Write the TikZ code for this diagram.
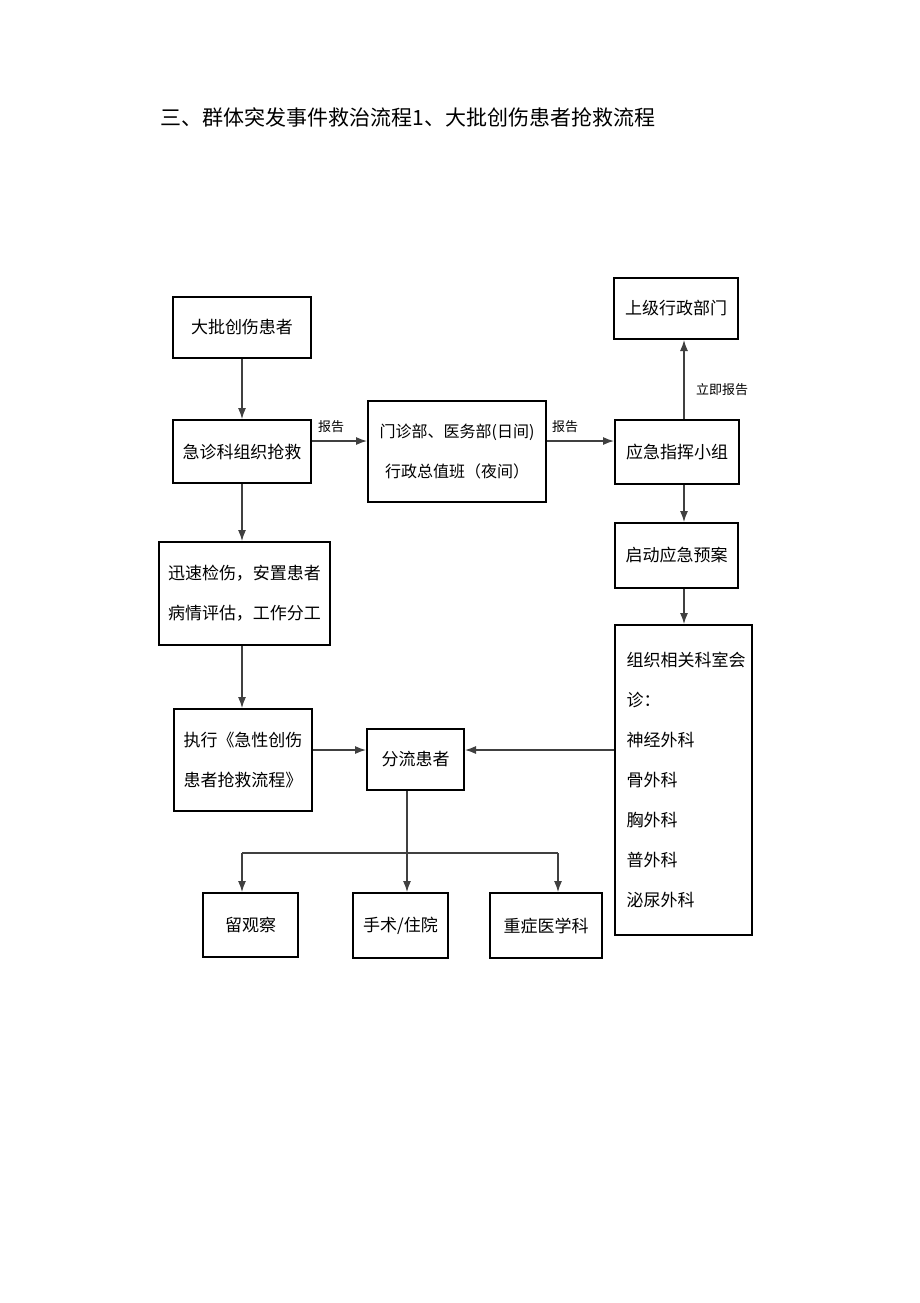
\documentclass[tikz,border=0pt]{standalone}
\usepackage{fontspec}
\setmainfont{Noto Sans CJK SC}
\usetikzlibrary{arrows.meta}

\begin{document}
\begin{tikzpicture}[
  x=0.5pt, y=-0.5pt,
  >={Latex[length=5.5pt, width=4pt]},
  box node/.style={draw, line width=1pt, inner sep=0pt, align=center,
    font=\fontsize{8.5}{20}\selectfont},
  flow line/.style={->, line width=0.6pt, black!75},
  join line/.style={line width=0.6pt, black!75},
  tag text/.style={font=\fontsize{6.5}{8}\selectfont, inner sep=1pt},
]
  \useasboundingbox (0,0) rectangle (920,1303);

  % Title line
  \node[anchor=west, inner sep=0pt, font=\fontsize{10.5}{12}\selectfont]
    (title) at (160,117) {三、群体突发事件救治流程1、大批创伤患者抢救流程};

  % Left column: from the patients down to the protocol
  \node[box node, minimum width=69pt, minimum height=30.5pt]
    (big) at (242,327.5) {大批创伤患者};
  \node[box node, minimum width=69pt, minimum height=31.5pt]
    (er) at (242,451.5) {急诊科组织抢救};
  \node[box node, minimum width=85.5pt, minimum height=51.5pt]
    (triage) at (244.5,593.5) {迅速检伤，安置患者\\病情评估，工作分工};
  \node[box node, minimum width=69pt, minimum height=51pt]
    (exec) at (243,760) {执行《急性创伤\\患者抢救流程》};

  % Middle column
  \node[box node, minimum width=89pt, minimum height=50.5pt,
    font=\fontsize{8}{20}\selectfont]
    (office) at (457,451.5) {门诊部、医务部(日间)\\行政总值班（夜间）};
  \node[box node, minimum width=48.5pt, minimum height=30.5pt]
    (divert) at (415.5,759.5) {分流患者};

  % Right column: command group
  \node[box node, minimum width=62pt, minimum height=30.5pt]
    (upper) at (676,308.5) {上级行政部门};
  \node[box node, minimum width=62pt, minimum height=32pt]
    (command) at (677,452) {应急指挥小组};
  \node[box node, minimum width=61.5pt, minimum height=32.5pt]
    (plan) at (676.5,555.5) {启动应急预案};
  \node[box node, minimum width=68.5pt, minimum height=155pt,
    align=left, text width=60pt, inner xsep=4.25pt]
    (consult) at (683.5,780)
    {\hspace*{1.5pt}组织相关科室会\\\hspace*{1.5pt}诊：\\\hspace*{1.5pt}神经外科\\\hspace*{1.5pt}骨外科\\\hspace*{1.5pt}胸外科\\\hspace*{1.5pt}普外科\\\hspace*{1.5pt}泌尿外科};

  % Bottom row
  \node[box node, minimum width=47.5pt, minimum height=32pt]
    (stay) at (250.5,925) {留观察};
  \node[box node, minimum width=47.5pt, minimum height=32.5pt]
    (surgery) at (400.5,925.5) {手术/住院};
  \node[box node, minimum width=56pt, minimum height=32.5pt]
    (icu) at (546,925.5) {重症医学科};

  % Helper coordinates for the connector lines
  \coordinate (report row) at (0,441);
  \coordinate (flow row) at (0,750);
  \coordinate (right axis) at (684,0);
  \coordinate (split) at (407,853);
  \coordinate (left drop) at (242,853);
  \coordinate (right drop) at (558,853);

  % Arrows down the left column
  \foreach \a/\b in {big/er, er/triage, triage/exec}
    \draw[flow line] (\a.south -| left drop) -- (\b.north -| left drop);

  % Reports to the right
  \draw[flow line] (er.east |- report row) -- (office.west |- report row);
  \draw[flow line] (office.east |- report row) -- (command.west |- report row);
  \node[tag text] (report a) at (331,427) {报告};
  \node[tag text] (report b) at (565,427) {报告};

  % Right column arrows
  \draw[flow line] (command.north -| right axis) -- (upper.south -| right axis);
  \node[tag text] (report c) at (722,390) {立即报告};
  \draw[flow line] (command.south -| right axis) -- (plan.north -| right axis);
  \draw[flow line] (plan.south -| right axis) -- (consult.north -| right axis);

  % Into the diverting box
  \draw[flow line] (exec.east |- flow row) -- (divert.west |- flow row);
  \draw[flow line] (consult.west |- flow row) -- (divert.east |- flow row);

  % Split to the three outcomes
  \draw[flow line] (divert.south -| split) -- (split |- surgery.north);
  \draw[join line] (left drop) -- (right drop);
  \draw[flow line] (left drop) -- (left drop |- stay.north);
  \draw[flow line] (right drop) -- (right drop |- icu.north);
\end{tikzpicture}
\end{document}
